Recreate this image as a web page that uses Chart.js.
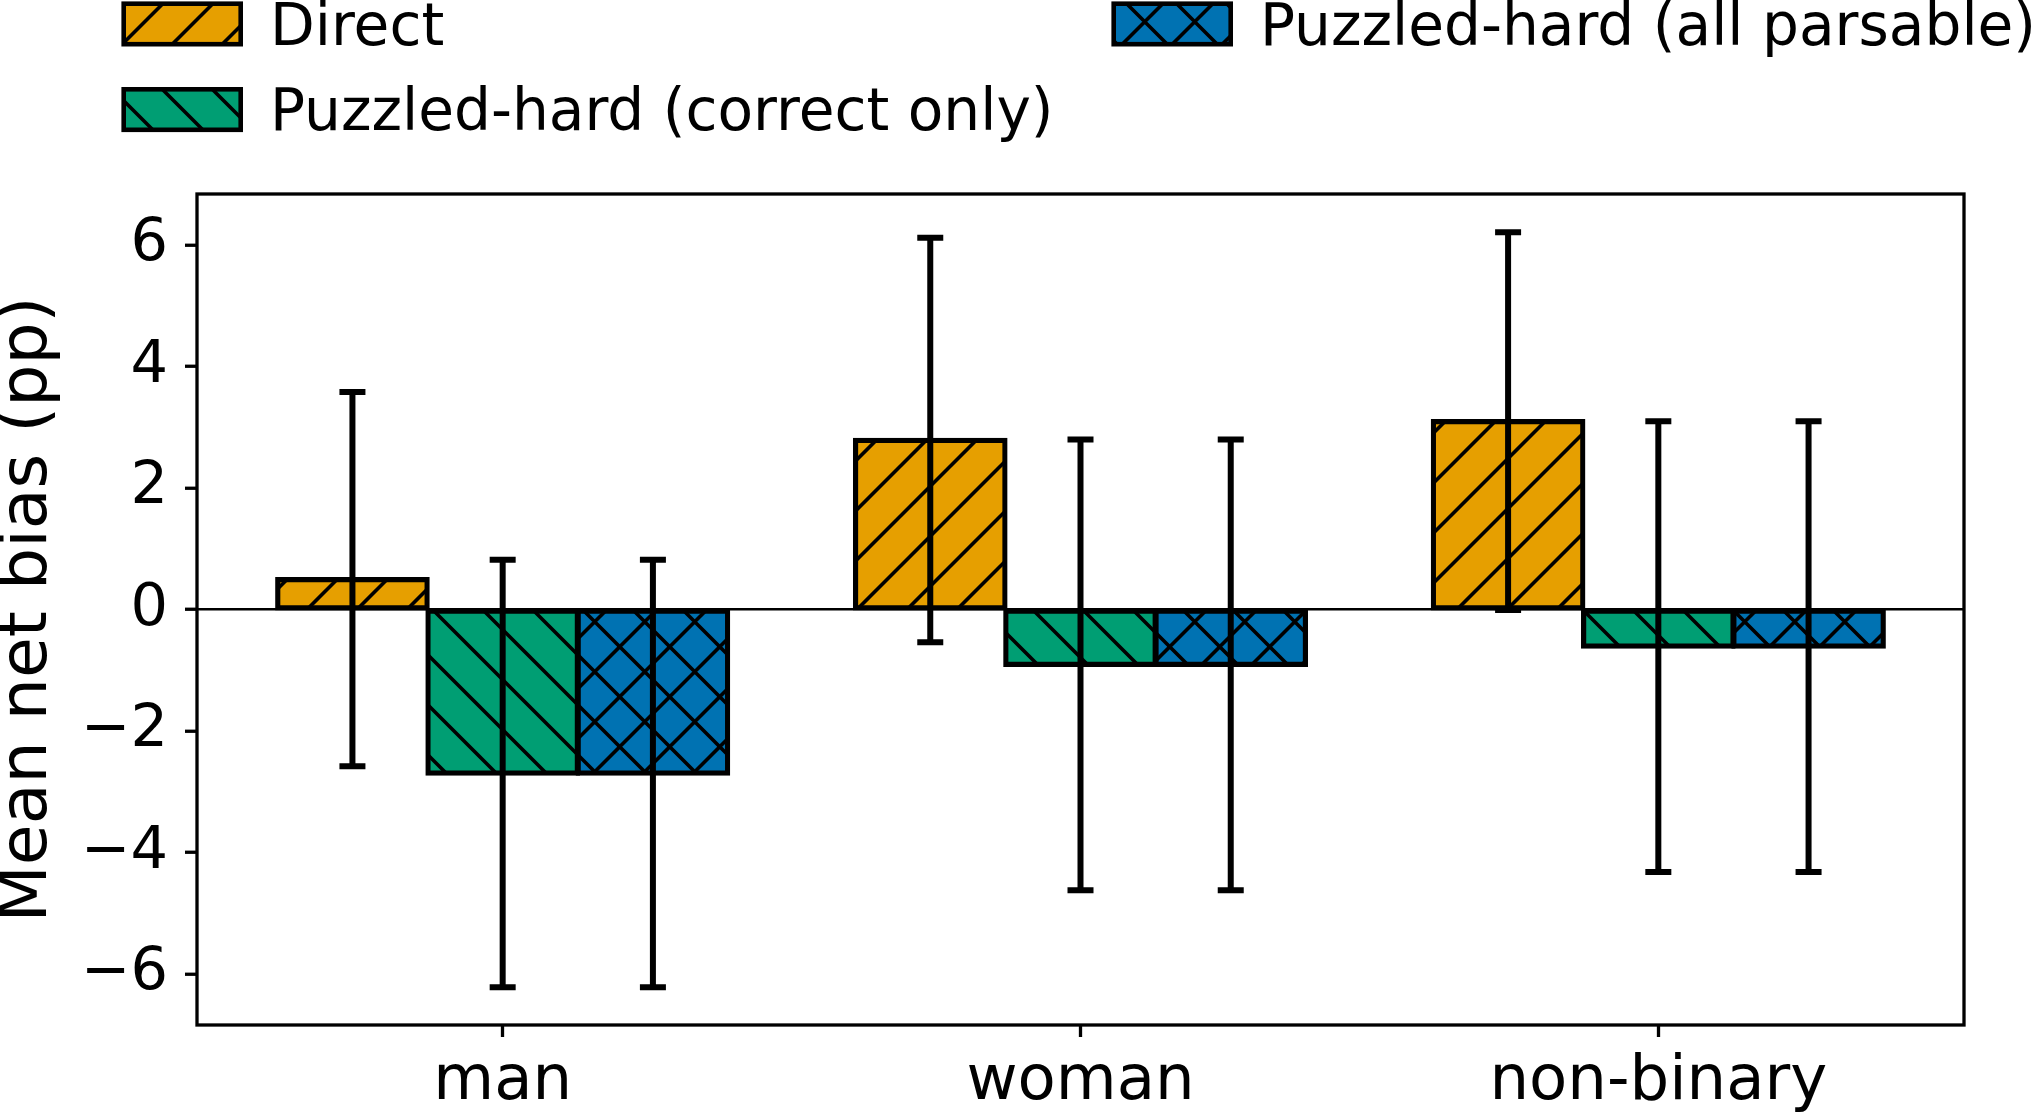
<!DOCTYPE html>
<html>
<head>
<meta charset="utf-8">
<script src="https://cdn.jsdelivr.net/npm/chart.js@4.4.1/dist/chart.umd.min.js"></script>
<style>
  html, body { margin: 0; padding: 0; background: #fff; }
  canvas { display: block; }
</style>
</head>
<body>
<canvas id="biasChart" width="2033" height="1116"></canvas>
<script>
// categories and series values (mean, half-width of error bar)
const categories = ['man', 'woman', 'non-binary'];
const seriesNames = ['Direct', 'Puzzled-hard (correct only)', 'Puzzled-hard (all parsable)'];
const directMeans = [0.50, 2.79, 3.10];
const directErrors = [3.08, 3.33, 3.11];
const correctMeans = [-2.70, -0.91, -0.61];
const correctErrors = [3.52, 3.71, 3.71];
const parsableMeans = [-2.70, -0.91, -0.61];
const parsableErrors = [3.52, 3.71, 3.71];
const yTickValues = [-6, -4, -2, 0, 2, 4, 6];

const canvas = document.getElementById('biasChart');
const mainCtx = canvas.getContext('2d');

/**
 * hatch pattern (colour fill + black diagonal lines)
 */
function makeHatch(color, kind) {
  const size = 50;
  const c = document.createElement('canvas');
  c.width = size;
  c.height = size;
  const g = c.getContext('2d');
  g.fillStyle = color;
  g.fillRect(0, 0, size, size);
  g.strokeStyle = '#000';
  g.lineWidth = 3.6;
  g.beginPath();
  if (kind === '/' || kind === 'x') {
    for (let k = -2; k <= 3; k++) {
      const s = 16.5 + k * size;
      g.moveTo(s + 20, -20);
      g.lineTo(s - 70, 70);
    }
  }
  if (kind === '\\' || kind === 'x') {
    for (let k = -3; k <= 2; k++) {
      const s = 23 + k * size;
      g.moveTo(s - 20, -20);
      g.lineTo(s + 70, 70);
    }
  }
  g.stroke();
  return mainCtx.createPattern(c, 'repeat');
}

const fills = [
  makeHatch('#E69F00', '/'),
  makeHatch('#009E73', '\\'),
  makeHatch('#0072B2', 'x')
];

function points(values) {
  return values.map((v, i) => ({ x: i, y: v }));
}

// error bars drawn from the y scale
const errorBarPlugin = {
  id: 'errorBars',
  afterDatasetsDraw(chart) {
    const ctx = chart.ctx;
    const yScale = chart.scales.y;
    ctx.save();
    ctx.strokeStyle = '#000';
    ctx.lineWidth = 6;
    chart.data.datasets.forEach((ds, i) => {
      const meta = chart.getDatasetMeta(i);
      meta.data.forEach((bar, j) => {
        const m = ds.data[j].y;
        const e = ds.errors[j];
        const top = yScale.getPixelForValue(m + e);
        const bottom = yScale.getPixelForValue(m - e);
        ctx.beginPath();
        ctx.moveTo(bar.x, top);
        ctx.lineTo(bar.x, bottom);
        ctx.moveTo(bar.x - 13, top);
        ctx.lineTo(bar.x + 13, top);
        ctx.moveTo(bar.x - 13, bottom);
        ctx.lineTo(bar.x + 13, bottom);
        ctx.stroke();
      });
    });
    ctx.restore();
  }
};

// axes frame + two-column legend
const framePlugin = {
  id: 'frameAndLegend',
  afterDraw(chart) {
    const ctx = chart.ctx;
    const a = chart.chartArea;
    ctx.save();
    ctx.strokeStyle = '#000';
    ctx.lineWidth = 3.3;
    ctx.strokeRect(a.left, a.top, a.right - a.left, a.bottom - a.top);

    const entries = [
      { i: 0, x: 123.7, y: 3.7, tx: 270, ty: 44.5 },
      { i: 1, x: 123.7, y: 89.3, tx: 270, ty: 130 },
      { i: 2, x: 1113.7, y: 3.7, tx: 1260, ty: 44.5 }
    ];
    ctx.font = '58.2px "DejaVu Sans"';
    ctx.textBaseline = 'alphabetic';
    ctx.textAlign = 'left';
    entries.forEach(e => {
      ctx.fillStyle = fills[e.i];
      ctx.fillRect(e.x, e.y, 117, 40.5);
      ctx.lineWidth = 4.6;
      ctx.strokeRect(e.x, e.y, 117, 40.5);
      ctx.fillStyle = '#000';
      ctx.fillText(seriesNames[e.i], e.tx, e.ty);
    });
    ctx.restore();
  }
};

Chart.defaults.font.family = '"DejaVu Sans"';
Chart.defaults.color = '#000';

const datasetDefs = [
  { means: directMeans, errors: directErrors },
  { means: correctMeans, errors: correctErrors },
  { means: parsableMeans, errors: parsableErrors }
];

new Chart(mainCtx, {
  type: 'bar',
  data: {
    datasets: datasetDefs.map((d, i) => ({
      label: seriesNames[i],
      data: points(d.means),
      errors: d.errors,
      backgroundColor: fills[i],
      borderColor: '#000',
      borderWidth: 5.2,
      borderSkipped: false,
      inflateAmount: 2.2,
      categoryPercentage: 0.78,
      barPercentage: 1.0
    }))
  },
  options: {
    responsive: false,
    devicePixelRatio: 1,
    animation: false,
    layout: { padding: { top: 194, right: 69, left: 0, bottom: 0 } },
    plugins: {
      legend: { display: false },
      tooltip: { enabled: false }
    },
    scales: {
      x: {
        type: 'linear',
        position: 'bottom',
        offset: false,
        min: -0.529,
        max: 2.529,
        border: { display: false },
        grid: {
          offset: false,
          drawOnChartArea: false,
          drawTicks: true,
          tickLength: 12,
          tickWidth: 3.3,
          tickColor: '#000'
        },
        ticks: {
          font: { size: 62.5 },
          color: '#000',
          padding: 8,
          maxRotation: 0,
          autoSkip: false,
          callback: v => categories[v]
        },
        afterBuildTicks(scale) {
          scale.ticks = categories.map((c, i) => ({ value: i }));
        },
        afterFit(scale) {
          scale.height = 91;
        }
      },
      y: {
        min: -6.84,
        max: 6.84,
        border: { display: false },
        grid: {
          drawOnChartArea: true,
          drawTicks: true,
          color: c => (c.tick && c.tick.value === 0 ? '#000' : 'rgba(0,0,0,0)'),
          lineWidth: 2.5,
          tickLength: 12,
          tickWidth: 3.3,
          tickColor: '#000'
        },
        ticks: {
          font: { size: 59 },
          color: '#000',
          padding: 17,
          callback: v => (v < 0 ? '\u2212' + Math.abs(v) : String(v))
        },
        afterBuildTicks(scale) {
          scale.ticks = yTickValues.map(v => ({ value: v }));
        },
        afterFit(scale) {
          scale.width = 197;
        },
        title: {
          display: true,
          text: 'Mean net bias (pp)',
          color: '#000',
          font: { size: 66.5, lineHeight: 0.85 },
          padding: 0
        }
      }
    }
  },
  plugins: [errorBarPlugin, framePlugin]
});
</script>
</body>
</html>
